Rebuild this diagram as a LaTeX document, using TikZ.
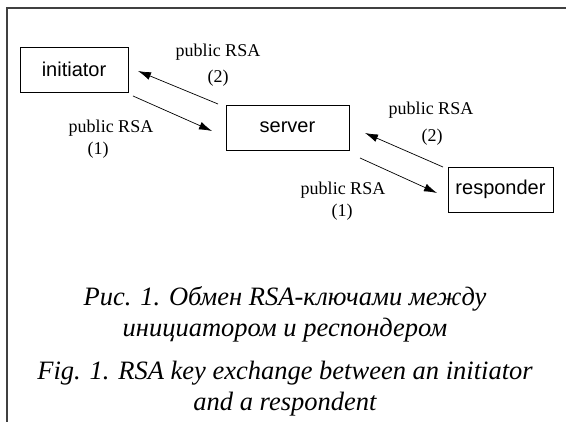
\documentclass[tikz,border=0pt]{standalone}
\usepackage{fontspec}
\setmainfont{Liberation Serif}
\newfontfamily\boxfont{Liberation Sans}
\usetikzlibrary{arrows.meta}
\begin{document}
\begin{tikzpicture}[x=1pt,y=-1pt,
  entity/.style={draw, line width=0.8pt, minimum height=45pt, inner sep=0pt,
    font=\boxfont\fontsize{20}{22}\selectfont},
  lbl/.style={font=\fontsize{18}{20}\selectfont, inner sep=0pt},
  msg/.style={line width=0.7pt, -{Latex[length=13pt,width=8pt]}},
  captxt/.style={font=\itshape\fontsize{26.5}{31}\selectfont, align=center, inner sep=0pt}]
\useasboundingbox (0,0) rectangle (566,422);
\draw[line width=1.4pt, draw=black!75] (7,422) -- (7,8) -- (566,8);

\node[entity, minimum width=108pt] (ini) at (74,69.5) {initiator};
\node[entity, minimum width=123pt] (srv) at (287.5,127.5) {server};
\node[entity, minimum width=105pt] (rsp) at (500.5,189.5) {responder};

\coordinate (a1s) at (133,96);  \coordinate (a1e) at (212,131);
\coordinate (a2s) at (218,104); \coordinate (a2e) at (138,71);
\coordinate (a3s) at (360,158); \coordinate (a3e) at (437,193);
\coordinate (a4s) at (443,167); \coordinate (a4e) at (365,133);

\draw[msg] (a1s) -- (a1e);
\draw[msg] (a2s) -- (a2e);
\draw[msg] (a3s) -- (a3e);
\draw[msg] (a4s) -- (a4e);

\node[lbl] (l2a) at (218,52) {public RSA};
\node[lbl] (l2b) at (218,78) {(2)};
\node[lbl] (l1a) at (111,128) {public RSA};
\node[lbl] (l1b) at (98,150) {(1)};
\node[lbl] (r2a) at (431,110) {public RSA};
\node[lbl] (r2b) at (432,137) {(2)};
\node[lbl] (r1a) at (343,190) {public RSA};
\node[lbl] (r1b) at (342,212) {(1)};

\node[captxt] (c1) at (285,314) {Рис. 1. Обмен RSA-ключами между\\инициатором и респондером};
\node[captxt] (c2) at (285,389) {Fig. 1. RSA key exchange between an initiator\\and a respondent};
\end{tikzpicture}
\end{document}
